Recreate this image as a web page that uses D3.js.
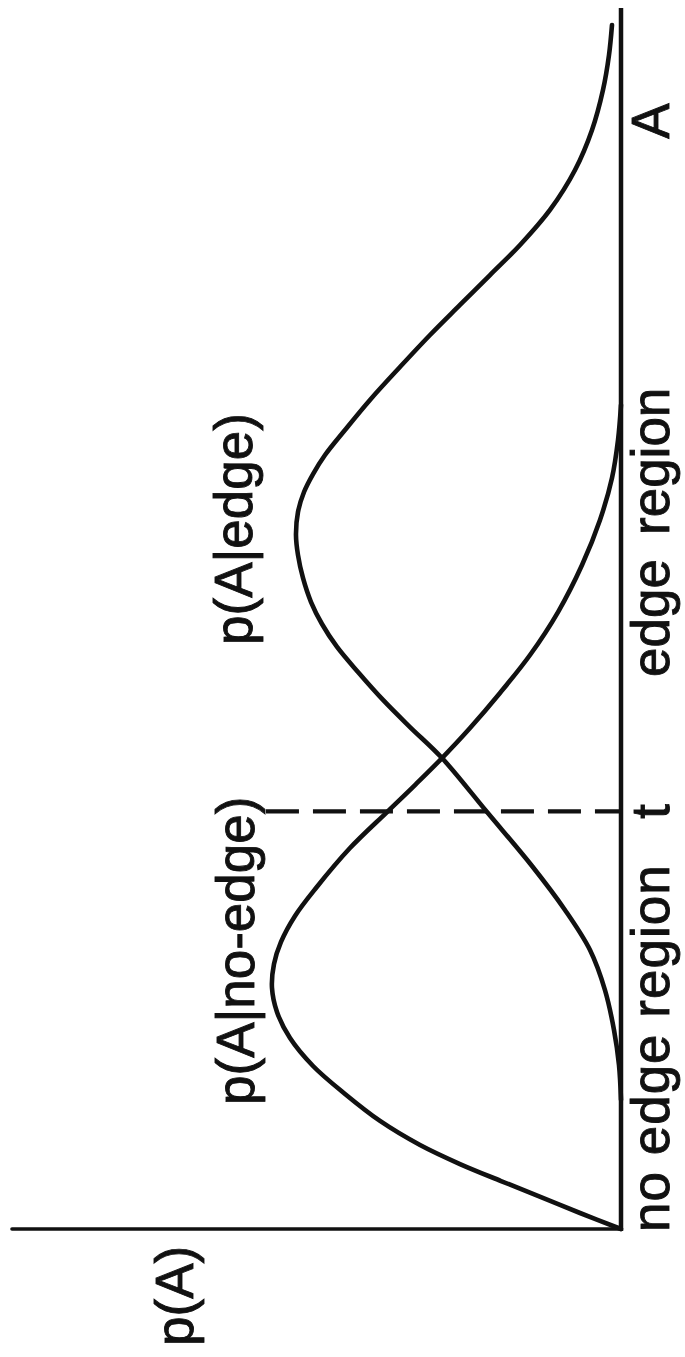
<!DOCTYPE html>
<html>
<head>
<meta charset="utf-8">
<script src="https://cdn.jsdelivr.net/npm/d3@7/dist/d3.min.js"></script>
<style>
  html, body { margin: 0; padding: 0; background: #fff; }
  svg { display: block; }
  text { font-family: "Liberation Sans", Arial, Helvetica, sans-serif; fill: #111; }
</style>
</head>
<body>
<script>
// ---- data (A = amplitude, p = probability density, arbitrary units) ----
const aNoEdge = [0, 1.31, 2.62, 3.93, 5.32, 6.88, 8.85, 11.06, 13.35, 15.64, 17.77, 19.74, 21.70, 23.51, 25.64, 27.93, 31.20, 34.15, 36.36, 38.57, 41.03, 43.90, 47.01, 50.53, 54.38, 58.07, 61.51, 64.62, 67.49];
const pNoEdge = [0, 6.73, 13.14, 19.70, 26.44, 33.0, 39.57, 45.32, 50.57, 54.35, 56.49, 57.31, 56.98, 55.83, 53.53, 50.08, 44.50, 38.42, 33.83, 29.39, 24.79, 19.87, 14.94, 10.34, 6.40, 3.45, 1.48, 0.49, 0];

const aEdge = [10.57, 13.43, 16.30, 19.57, 22.85, 26.13, 29.73, 34.15, 38.57, 41.11, 43.33, 45.62, 47.67, 49.55, 51.35, 53.32, 55.20, 56.84, 58.72, 60.36, 61.83, 63.39, 65.44, 67.90, 70.60, 73.22, 75.68, 78.13, 80.59, 83.46, 86.73, 90.01, 93.28, 96.15, 98.61];
const pEdge  = [0, 0.33, 1.15, 2.63, 5.09, 9.20, 14.61, 22.00, 29.39, 34.65, 39.08, 43.19, 46.63, 49.10, 50.90, 52.22, 53.04, 53.37, 53.04, 52.05, 50.57, 48.60, 45.32, 41.22, 36.29, 31.36, 26.44, 21.51, 16.58, 11.66, 7.55, 4.76, 2.96, 1.97, 1.48];

const threshold = 34.2;          // t
const thresholdLineTop = 58.3;   // p extent of dashed line

const curveLabels = ["p(A|no-edge)", "p(A|edge)"];
const axisLabelP = "p(A)";
const axisLabelA = "A";
const regionLabels = ["no edge region", "edge", "region"];
const thresholdLabel = "t";

// ---- layout ----
const W = 685, H = 1357;
const svg = d3.select("body").append("svg").attr("width", W).attr("height", H);
svg.append("rect").attr("width", W).attr("height", H).attr("fill", "#fff");

// Rotated chart: A runs upward along the vertical line, p runs leftward.
const yA = d3.scaleLinear().domain([0, 100]).range([1229, 8]);
const xP = d3.scaleLinear().domain([0, 100]).range([621, 12]);

const ink = "#111";

// axes
svg.append("line")
  .attr("x1", xP(0)).attr("x2", xP(0))
  .attr("y1", yA(0) + 2).attr("y2", yA(100))
  .attr("stroke", ink).attr("stroke-width", 4.5);
svg.append("line")
  .attr("x1", xP(100)).attr("x2", xP(0))
  .attr("y1", yA(0)).attr("y2", yA(0))
  .attr("stroke", ink).attr("stroke-width", 3.6)
  .attr("stroke-linecap", "round");

// curves
const line = d3.line()
  .x(d => xP(d[1]))
  .y(d => yA(d[0]))
  .curve(d3.curveCatmullRom.alpha(0.5));

svg.append("path")
  .datum(d3.zip(aNoEdge, pNoEdge))
  .attr("d", line)
  .attr("fill", "none").attr("stroke", ink).attr("stroke-width", 4.6)
  .attr("stroke-linecap", "round");

svg.append("path")
  .datum(d3.zip(aEdge, pEdge))
  .attr("d", line)
  .attr("fill", "none").attr("stroke", ink).attr("stroke-width", 4.6)
  .attr("stroke-linecap", "round");

// threshold dashed line
svg.append("line")
  .attr("x1", xP(thresholdLineTop)).attr("x2", xP(0))
  .attr("y1", yA(threshold)).attr("y2", yA(threshold))
  .attr("stroke", ink).attr("stroke-width", 4.2)
  .attr("stroke-dasharray", "33,14");

// text helper (rotated -90)
function vtext(str, x, y, anchor, extra) {
  const t = svg.append("text")
    .attr("transform", `translate(${x},${y}) rotate(-90)`)
    .attr("text-anchor", anchor)
    .attr("font-size", 53)
    .attr("stroke", ink)
    .attr("stroke-width", 0.9)
    .text(str);
  if (extra) extra(t);
  return t;
}

const baseAxis = xP(0) + 48;
vtext(regionLabels[0], baseAxis, yA(0) + 3, "start", t => t.attr("letter-spacing", 1));
vtext(thresholdLabel, baseAxis, yA(threshold), "middle");
vtext(regionLabels[1], baseAxis, 677, "start");
vtext(regionLabels[2], baseAxis, 535, "start");
vtext(axisLabelA, baseAxis, 121, "middle");

vtext(curveLabels[0], 254, 1105, "start");
vtext(curveLabels[1], 252, 645, "start");
vtext(axisLabelP, 193, 1346, "start");
</script>
</body>
</html>
